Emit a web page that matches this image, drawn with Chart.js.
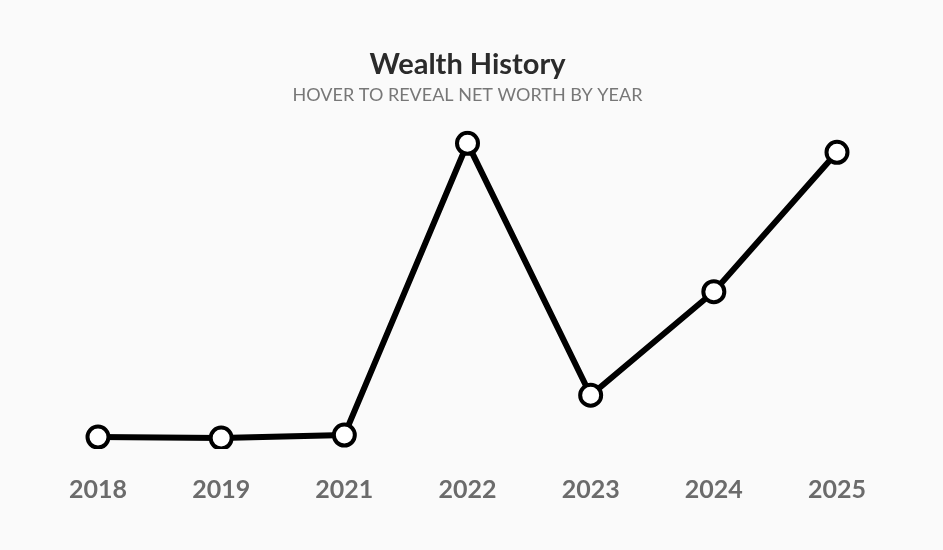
<!DOCTYPE html>
<html>
<head>
<meta charset="utf-8">
<script src="https://cdn.jsdelivr.net/npm/chart.js@4/dist/chart.umd.min.js"></script>
<style>
  html, body { margin: 0; padding: 0; background: #fafafa; }
  #wrap { width: 943px; height: 550px; }
</style>
</head>
<body>
<div id="wrap"><canvas id="wealthChart"></canvas></div>
<script>
// values (y axis is hidden, units are relative)
const years = ["2018", "2019", "2021", "2022", "2023", "2024", "2025"];
const netWorth = [12, 11, 14, 307, 54, 158, 298];

const ctx = document.getElementById("wealthChart").getContext("2d");
new Chart(ctx, {
  type: "line",
  data: {
    labels: years,
    datasets: [{
      label: "Net worth",
      data: netWorth,
      borderColor: "#000",
      borderWidth: 6,
      tension: 0,
      pointRadius: 10.5,
      pointHoverRadius: 12,
      pointBackgroundColor: "#fff",
      pointBorderColor: "#000",
      pointBorderWidth: 4
    }]
  },
  options: {
    responsive: true,
    maintainAspectRatio: false,
    animation: false,
    layout: {
      padding: { top: 47, left: 98, right: 106, bottom: 27 }
    },
    plugins: {
      legend: { display: false },
      title: {
        display: true,
        text: "Wealth History",
        color: "#2b2b2b",
        font: { family: "Lato", size: 29, weight: "bold" },
        padding: { top: 0, bottom: 3 }
      },
      subtitle: {
        display: true,
        text: "HOVER TO REVEAL NET WORTH BY YEAR",
        color: "#777",
        font: { family: "Lato", size: 18 },
        padding: { bottom: 24 }
      }
    },
    scales: {
      x: {
        grid: { display: false },
        border: { display: false },
        ticks: {
          color: "#6b6b6b",
          font: { family: "Lato", size: 25, weight: "bold" },
          padding: 18
        }
      },
      y: {
        display: false,
        min: 0,
        max: 320
      }
    }
  }
});
</script>
</body>
</html>
